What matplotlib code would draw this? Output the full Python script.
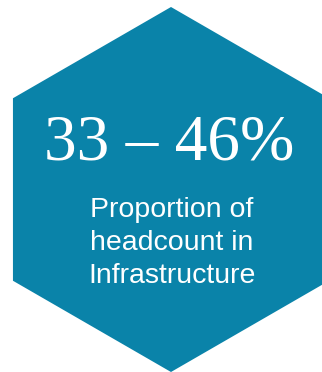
import matplotlib
matplotlib.use("Agg")
import matplotlib.pyplot as plt
from matplotlib.patches import RegularPolygon

# ======================
# DATOS
# ======================
RANGE_LOW = 33
RANGE_HIGH = 46
CAPTION_LINES = ["Proportion of", "headcount in", "Infrastructure"]

HEX_COLOR = "#0A83A9"

# ======================
# FIGURA
# ======================
W, H = 322, 372
fig = plt.figure(figsize=(W / 100, H / 100), dpi=100)
ax = fig.add_axes([0, 0, 1, 1])
ax.set_xlim(0, W)
ax.set_ylim(H, 0)
ax.axis("off")

hexagon = RegularPolygon((171, 189.5), numVertices=6, radius=182.5,
                         orientation=0, facecolor=HEX_COLOR, edgecolor="none")
ax.add_patch(hexagon)

ax.text(169, 159, f"{RANGE_LOW} \u2013 {RANGE_HIGH}%", ha="center", va="baseline",
        color="white", fontsize=47, family="Liberation Serif")

baselines = [217, 250, 283]
for line, yb in zip(CAPTION_LINES, baselines):
    ax.text(172, yb, line, ha="center", va="baseline", color="white",
            fontsize=20.5, family="Liberation Sans")

fig.savefig("out.png", dpi=100)
